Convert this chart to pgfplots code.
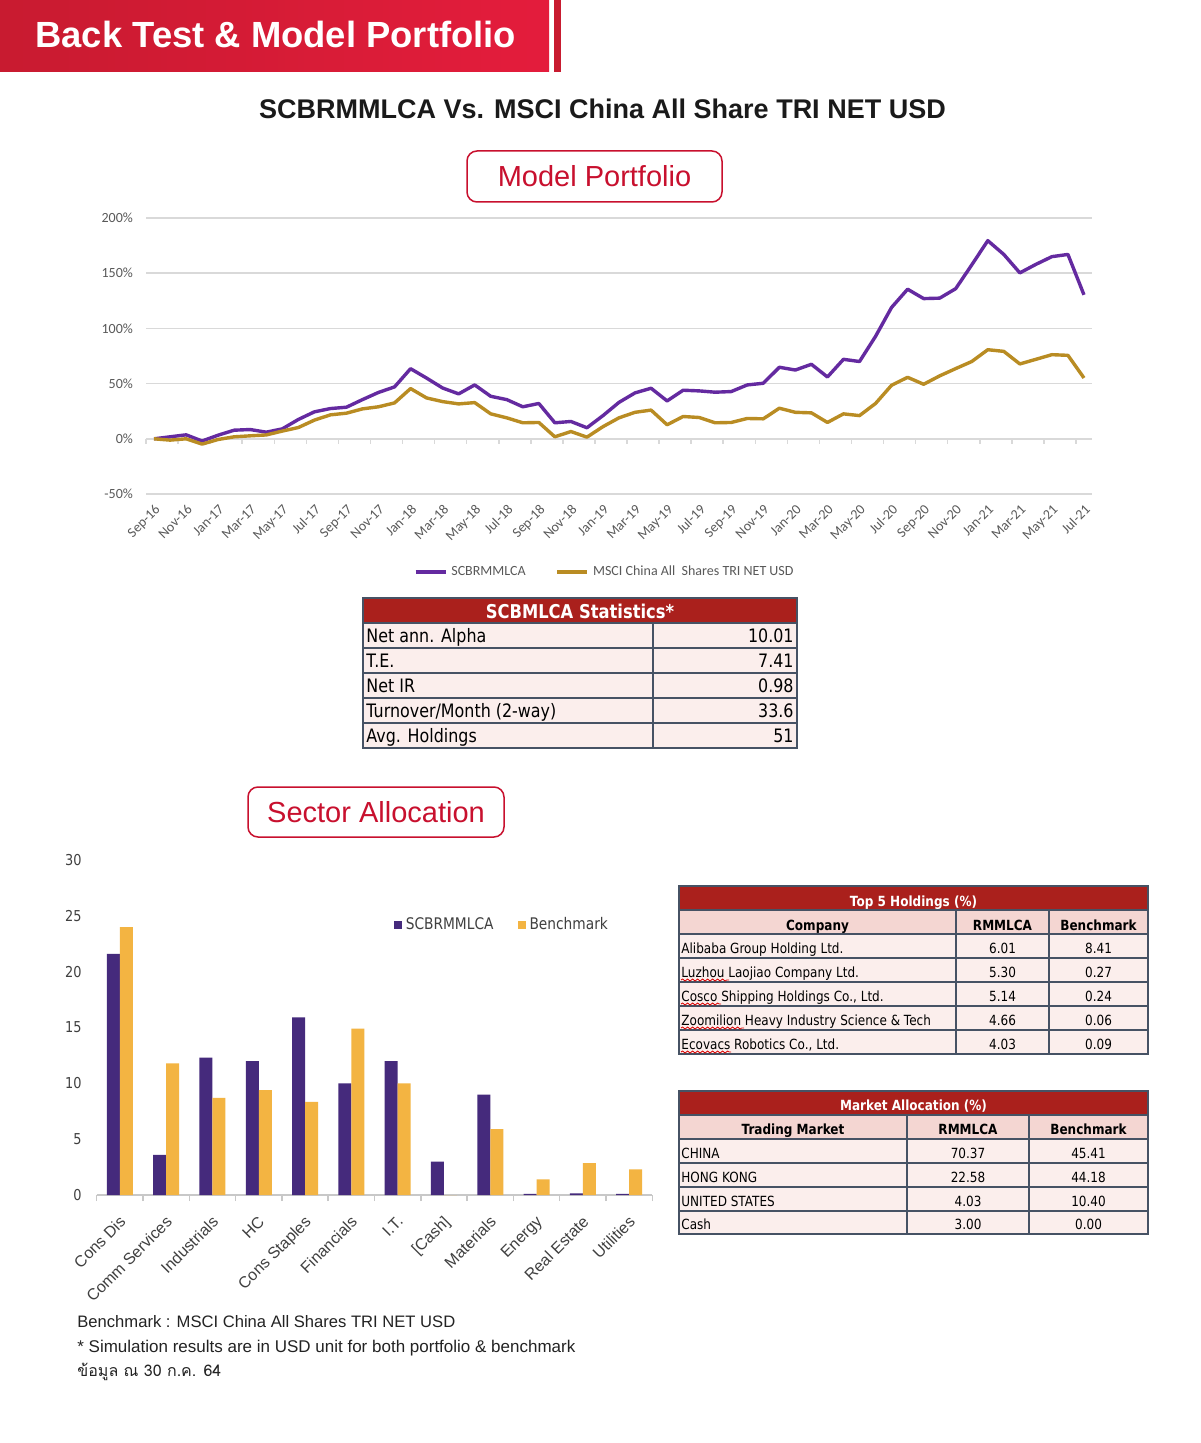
\documentclass[border=0pt]{standalone}
\usepackage{fontspec}
\usepackage{pgfplots}
\usepackage{pgfplotstable}
\pgfplotsset{compat=1.18}
\usetikzlibrary{decorations.pathmorphing}
\setmainfont{Liberation Sans}
\newfontfamily\tah[FakeStretch=0.86]{DejaVu Sans}
\newfontfamily\calib{Carlito}
\newfontfamily\thaifont[Script=Thai]{Loma}
\newcommand\fs[1]{\fontsize{#1}{#1}\selectfont}

\definecolor{hdrL}{RGB}{200,27,48}
\definecolor{hdrR}{RGB}{228,28,60}
\definecolor{boxred}{RGB}{200,16,46}
\definecolor{titlec}{RGB}{26,26,26}
\definecolor{lineP}{RGB}{100,42,160}
\definecolor{lineG}{RGB}{185,140,35}
\definecolor{barP}{RGB}{69,42,124}
\definecolor{barG}{RGB}{243,180,66}
\definecolor{tblred}{RGB}{170,32,28}
\definecolor{tblsub}{RGB}{244,214,210}
\definecolor{tblbody}{RGB}{251,238,236}
\definecolor{tblline}{RGB}{70,82,100}
\definecolor{gridgray}{RGB}{217,217,217}
\definecolor{tickgray}{RGB}{89,89,89}
\definecolor{lab}{RGB}{64,64,64}
\definecolor{axgray}{RGB}{200,200,200}
\definecolor{foot}{RGB}{35,35,35}

% cumulative return, % (Sep-16 .. Jul-21, monthly)
\pgfplotstableread{
i scb msci
0 0 0
1 1.8 -1.2
2 3.6 0
3 -2 -4.8
4 3.3 -0.6
5 7.8 1.8
6 8.4 2.7
7 6 3.5
8 9 7
9 17.5 10.2
10 24.4 16.9
11 27.4 21.7
12 28.6 23.2
13 35.5 27.1
14 42 29
15 47 32.5
16 63.5 45.5
17 55 37
18 46 33.7
19 40.7 31.6
20 48.8 32.8
21 38.5 22.6
22 35.5 19
23 29 14.5
24 32 14.8
25 14.5 1.8
26 15.7 6.6
27 10 1.5
28 21 11
29 33 19
30 41.6 24
31 45.8 26
32 34.3 12.7
33 44 20.2
34 43.4 19.3
35 42.2 14.5
36 42.8 14.8
37 48.8 18.4
38 50.3 18.1
39 64.8 27.7
40 62.3 24
41 67.5 23.5
42 56 14.8
43 72 22.6
44 70 21
45 92.8 32
46 119 48.5
47 135.5 55.7
48 127 49.4
49 127.4 57
50 136 63.6
51 157.5 70
52 179.5 80.7
53 167 79.2
54 150.3 67.8
55 158 72
56 165 76.2
57 167 75.6
58 130.4 55.1
}\perf

\newcommand\statrow[3]{%
  \node[anchor=base west, inner sep=0, font=\tah\fs{9.25}] at (366,#1) {#2};
  \node[anchor=base east, inner sep=0, font=\tah\fs{9.25}] at (794,#1) {#3};}
\newcommand\holdrow[4]{%
  \node[anchor=base west, inner sep=0, font=\tah\fs{7}] at (681,#1) {#2};
  \node[anchor=base, inner sep=0, font=\tah\fs{7}] at (1002.5,#1) {#3};
  \node[anchor=base, inner sep=0, font=\tah\fs{7}] at (1098.5,#1) {#4};}
\newcommand\mktrow[4]{%
  \node[anchor=base west, inner sep=0, font=\tah\fs{7}] at (681,#1) {#2};
  \node[anchor=base, inner sep=0, font=\tah\fs{7}] at (968,#1) {#3};
  \node[anchor=base, inner sep=0, font=\tah\fs{7}] at (1088.5,#1) {#4};}

\begin{document}
\begin{tikzpicture}[x=0.5pt,y=-0.5pt]
\useasboundingbox (0,0) rectangle (1200,1443);
\fill[white] (0,0) rectangle (1200,1443);

% header band
\shade[left color=hdrL, right color=hdrR] (0,0) rectangle (549,72);
\fill[hdrL] (554,0) rectangle (561,72);
\node[anchor=base west, white, font=\bfseries\fs{18.2}, inner sep=0] at (35,48) {Back Test \& Model Portfolio};
\node[anchor=base, text=titlec, font=\bfseries\fs{13.5}, inner sep=0] at (602.5,119) {SCBRMMLCA Vs. MSCI China All Share TRI NET USD};

\draw[boxred, line width=0.75pt, rounded corners=5pt] (467,151) rectangle (722,202);
\node[anchor=base, text=boxred, font=\fs{14.5}, inner sep=0] at (594.5,187) {Model Portfolio};
\draw[boxred, line width=0.75pt, rounded corners=5pt] (248,787) rectangle (504,837);
\node[anchor=base, text=boxred, font=\fs{14.5}, inner sep=0] at (376,822.5) {Sector Allocation};

% line chart
\begin{axis}[
  at={(73pt,-247pt)}, anchor=south west, scale only axis,
  width=473pt, height=138pt,
  xmin=-0.5, xmax=58.5, ymin=-50, ymax=200,
  axis line style={draw=none}, major tick length=0pt,
  /pgf/number format/assume math mode=true,
  ytick={-50,0,50,100,150,200},
  yticklabel={\pgfmathprintnumber{\tick}\%},
  ymajorgrids, grid style={gridgray, line width=0.75pt},
  xtick={0,2,...,58},
  xticklabels={Sep-16,Nov-16,Jan-17,Mar-17,May-17,Jul-17,Sep-17,Nov-17,Jan-18,Mar-18,May-18,Jul-18,Sep-18,Nov-18,Jan-19,Mar-19,May-19,Jul-19,Sep-19,Nov-19,Jan-20,Mar-20,May-20,Jul-20,Sep-20,Nov-20,Jan-21,Mar-21,May-21,Jul-21},
  tick label style={font=\calib\fs{7}, text=tickgray},
  y tick label style={xshift=-3pt},
  x tick label style={rotate=45, anchor=north east},
  clip=false,
  legend style={at={(0.486,-0.283)}, anchor=center, draw=none, fill=none,
    legend columns=2, font=\calib\fs{7},
    /tikz/every even column/.append style={column sep=13pt}},
  legend image code/.code={\draw[#1] (0pt,0pt) -- (15pt,0pt);},
]
\pgfplotsinvokeforeach{0,2,...,58}{\draw[gridgray, line width=0.75pt] (axis cs:#1,0) ++(-4pt,0pt) -- ++(0pt,-2.5pt);}
\addplot[lineP, line width=1.7pt, line join=round, mark=none] table[x=i, y=scb] {\perf};
\addplot[lineG, line width=1.7pt, line join=round, mark=none] table[x=i, y=msci] {\perf};
\legend{\textcolor{tickgray}{SCBRMMLCA}, \textcolor{tickgray}{MSCI China All\ \ Shares TRI NET USD}}
\end{axis}

% statistics table
\fill[tblred] (363,598) rectangle (797,623);
\fill[tblbody] (363,623) rectangle (797,748);
\foreach \y in {623,648,673,698,723} \draw[tblline, line width=1pt] (363,\y) -- (797,\y);
\draw[tblline, line width=1pt] (653,623) -- (653,748);
\draw[tblline, line width=1pt] (363,598) rectangle (797,748);
\node[anchor=base, white, inner sep=0, font=\tah\bfseries\fs{9.5}] at (580,618) {SCBMLCA Statistics*};
\statrow{642}{Net ann. Alpha}{10.01}
\statrow{667}{T.E.}{7.41}
\statrow{692}{Net IR}{0.98}
\statrow{717}{Turnover/Month (2-way)}{33.6}
\statrow{742}{Avg. Holdings}{51}

% top 5 holdings table
\fill[tblred] (679,886) rectangle (1148,910);
\fill[tblsub] (679,910) rectangle (1148,934);
\fill[tblbody] (679,934) rectangle (1148,1054);
\foreach \y in {910,934,958,982,1006,1030} \draw[tblline, line width=1pt] (679,\y) -- (1148,\y);
\draw[tblline, line width=1pt] (956,910) -- (956,1054) (1049,910) -- (1049,1054);
\draw[tblline, line width=1pt] (679,886) rectangle (1148,1054);
\node[anchor=base, white, inner sep=0, font=\tah\bfseries\fs{7}] at (913.5,906) {Top 5 Holdings (\%)};
\node[anchor=base, inner sep=0, font=\tah\bfseries\fs{7}] at (817.5,930) {Company};
\node[anchor=base, inner sep=0, font=\tah\bfseries\fs{7}] at (1002.5,930) {RMMLCA};
\node[anchor=base, inner sep=0, font=\tah\bfseries\fs{7}] at (1098.5,930) {Benchmark};
\holdrow{953}{Alibaba Group Holding Ltd.}{6.01}{8.41}
\holdrow{977}{Luzhou Laojiao Company Ltd.}{5.30}{0.27}
\holdrow{1001}{Cosco Shipping Holdings Co., Ltd.}{5.14}{0.24}
\holdrow{1025}{Zoomilion Heavy Industry Science \& Tech}{4.66}{0.06}
\holdrow{1049}{Ecovacs Robotics Co., Ltd.}{4.03}{0.09}
\begin{scope}[red!85!black, line width=0.4pt, decoration={snake, amplitude=0.5pt, segment length=2.5pt}]
\draw[decorate] (681,980) -- (729,980);
\draw[decorate] (681,1004) -- (721,1004);
\draw[decorate] (681,1028) -- (744,1028);
\draw[decorate] (681,1052) -- (731,1052);
\end{scope}

% market allocation table
\fill[tblred] (679,1091) rectangle (1148,1115);
\fill[tblsub] (679,1115) rectangle (1148,1139);
\fill[tblbody] (679,1139) rectangle (1148,1234);
\foreach \y in {1115,1139,1163,1187,1211} \draw[tblline, line width=1pt] (679,\y) -- (1148,\y);
\draw[tblline, line width=1pt] (907,1115) -- (907,1234) (1029,1115) -- (1029,1234);
\draw[tblline, line width=1pt] (679,1091) rectangle (1148,1234);
\node[anchor=base, white, inner sep=0, font=\tah\bfseries\fs{7}] at (913.5,1110) {Market Allocation (\%)};
\node[anchor=base, inner sep=0, font=\tah\bfseries\fs{7}] at (793,1134) {Trading Market};
\node[anchor=base, inner sep=0, font=\tah\bfseries\fs{7}] at (968,1134) {RMMLCA};
\node[anchor=base, inner sep=0, font=\tah\bfseries\fs{7}] at (1088.5,1134) {Benchmark};
\mktrow{1158}{CHINA}{70.37}{45.41}
\mktrow{1182}{HONG KONG}{22.58}{44.18}
\mktrow{1206}{UNITED STATES}{4.03}{10.40}
\mktrow{1229.5}{Cash}{3.00}{0.00}

% sector allocation bar chart
\begin{axis}[
  at={(48.35pt,-597.5pt)}, anchor=south west, scale only axis,
  width=277.8pt, height=167.5pt,
  xmin=-0.5, xmax=11.5, ymin=0, ymax=30,
  ybar=0pt, bar width=6.5pt,
  axis x line*=bottom, axis y line*=left,
  y axis line style={draw=none},
  x axis line style={draw=axgray, line width=0.75pt, -},
  /pgf/number format/assume math mode=true,
  ytick={0,5,...,30}, ytick style={draw=none},
  xtick={0,...,11}, xtick style={draw=none},
  xticklabels={Cons Dis,Comm Services,Industrials,HC,Cons Staples,Financials,I.T.,{[Cash]},Materials,Energy,Real Estate,Utilities},
  y tick label style={font=\tah\fs{7.5}, text=lab, xshift=-4pt},
  x tick label style={font=\fs{8}, text=lab, rotate=45, anchor=north east, xshift=-1pt},
  extra x ticks={-0.5,0.5,...,11.5}, extra x tick labels={},
  extra x tick style={xtick style={draw=axgray, line width=0.75pt}, major tick length=3pt, tick align=outside},
  clip=false,
  legend style={at={(0.731,0.806)}, anchor=center, draw=none, fill=none,
    legend columns=2, font=\tah\fs{8},
    /tikz/every even column/.append style={column sep=10pt}},
  legend image code/.code={\fill[#1] (0pt,-2pt) rectangle (4pt,2pt);},
]
\addplot[fill=barP, draw=none] coordinates {(0,21.6) (1,3.6) (2,12.3) (3,12.0) (4,15.9) (5,10.0) (6,12.0) (7,3.0) (8,9.0) (9,0.1) (10,0.15) (11,0.1)};
\addplot[fill=barG, draw=none] coordinates {(0,24.0) (1,11.8) (2,8.7) (3,9.4) (4,8.35) (5,14.9) (6,10.0) (7,0) (8,5.9) (9,1.4) (10,2.85) (11,2.3)};
\legend{\textcolor{lab}{SCBRMMLCA}, \textcolor{lab}{Benchmark}}
\end{axis}

% footnotes
\node[anchor=base west, inner sep=0, text=foot, font=\fs{8.3}] at (77,1327) {Benchmark : MSCI China All Shares TRI NET USD};
\node[anchor=base west, inner sep=0, text=foot, font=\fs{8.5}] at (77,1352) {* Simulation results are in USD unit for both portfolio \& benchmark};
\node[anchor=base west, inner sep=0, text=foot, font=\thaifont\fs{8}] at (77,1376) {ข้อมูล ณ 30 ก.ค. 64};
\end{tikzpicture}
\end{document}
